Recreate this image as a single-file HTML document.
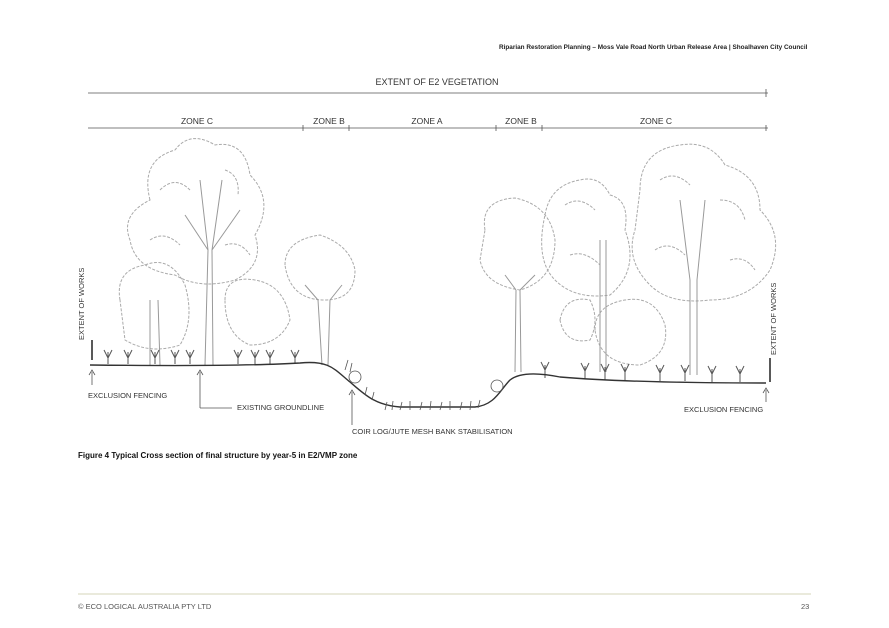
<!DOCTYPE html>
<html><head><meta charset="utf-8"><style>
html,body{margin:0;padding:0;background:#fff;}
body{width:889px;height:628px;position:relative;overflow:hidden;font-family:"Liberation Sans",sans-serif;}
.t{position:absolute;white-space:nowrap;}
</style></head><body>
<div class="t" style="left:499px;top:44px;font-size:6.4px;font-weight:bold;color:#222;">Riparian Restoration Planning – Moss Vale Road North Urban Release Area | Shoalhaven City Council</div>
<svg width="889" height="628" style="position:absolute;left:0;top:0" xmlns="http://www.w3.org/2000/svg" font-family="Liberation Sans, sans-serif">
<g fill="#333" font-size="9">
<text x="437" y="85" text-anchor="middle">EXTENT OF E2 VEGETATION</text>
<text x="197" y="124" text-anchor="middle" font-size="8.5">ZONE C</text>
<text x="329" y="124" text-anchor="middle" font-size="8.5">ZONE B</text>
<text x="427" y="124" text-anchor="middle" font-size="8.5">ZONE A</text>
<text x="521" y="124" text-anchor="middle" font-size="8.5">ZONE B</text>
<text x="656" y="124" text-anchor="middle" font-size="8.5">ZONE C</text>
</g>
<g stroke="#555" stroke-width="0.8" fill="none">
<line x1="88" y1="93" x2="768" y2="93"/><line x1="766" y1="89" x2="766" y2="97"/>
<line x1="88" y1="128" x2="768" y2="128"/>
<line x1="303" y1="125" x2="303" y2="131"/><line x1="349" y1="125" x2="349" y2="131"/>
<line x1="496" y1="125" x2="496" y2="131"/><line x1="542" y1="125" x2="542" y2="131"/><line x1="766" y1="125" x2="766" y2="131"/>
</g>
<!-- trees -->
<g stroke="#aaa" stroke-width="1" fill="none" stroke-dasharray="3 1.5">
<path d="M150 200 Q140 160 175 150 Q190 130 215 145 Q245 140 250 175 Q275 200 255 235 Q265 265 235 280 Q200 290 175 275 Q135 270 130 240 Q120 215 150 200Z"/>
<path d="M160 190 Q175 175 190 190 M225 170 Q240 175 238 195 M150 240 Q165 230 180 245 M225 245 Q240 240 250 255"/>
<path d="M120 300 Q115 270 145 265 Q170 255 185 285 Q195 320 180 345 Q150 355 125 340 Z"/>
<path d="M225 300 Q225 275 255 280 Q285 285 290 320 Q280 345 250 345 Q225 335 225 300Z"/>
<path d="M285 265 Q285 240 320 235 Q350 245 355 270 Q355 300 325 300 Q290 300 285 265Z"/>
<path d="M485 230 Q480 200 515 198 Q550 205 555 240 Q555 280 520 290 Q485 285 480 260Z"/>
<path d="M545 215 Q550 185 580 180 Q600 175 610 195 Q630 200 625 230 Q640 270 610 295 Q575 300 555 280 Q535 260 545 215Z"/>
<path d="M640 190 Q640 150 680 145 Q710 140 725 165 Q760 175 760 210 Q785 235 770 270 Q750 300 710 300 Q670 305 650 285 Q625 260 635 230Z"/>
<path d="M660 180 Q675 170 690 185 M720 200 Q740 200 745 220 M655 250 Q670 240 685 255 M730 260 Q745 255 755 270 M565 205 Q580 195 595 210 M570 255 Q585 250 600 265"/>
<path d="M595 330 Q595 305 625 300 Q655 295 665 325 Q670 355 640 365 Q600 365 595 330Z"/>
<path d="M560 320 Q565 295 590 300 Q600 320 590 340 Q565 345 560 320Z"/>
</g>
<g stroke="#999" stroke-width="1" fill="none">
<path d="M205 365 L208 250 L200 180 M213 365 L212 250 L222 180 M208 250 L185 215 M212 250 L240 210"/>
<path d="M322 365 L318 300 M328 365 L330 300 M318 300 L305 285 M330 300 L342 285"/>
<path d="M515 372 L516 290 M521 372 L520 290 M516 290 L505 275 M520 290 L535 275"/>
<path d="M690 375 L690 280 L680 200 M697 375 L697 280 L705 200 M600 372 L600 240 M606 372 L606 240"/>
<path d="M150 365 L150 300 M160 365 L158 300"/>
</g>
<!-- plants -->
<g stroke="#555" stroke-width="1" fill="none">
<path d="M108 364 L108 352 M104 350 L108 358 L112 350 M128 364 L128 352 M124 350 L128 358 L132 350 M155 364 L155 352 M151 350 L155 358 L159 350 M175 364 L175 352 M171 350 L175 358 L179 350 M190 364 L190 352 M186 350 L190 358 L194 350 M238 364 L238 352 M234 350 L238 358 L242 350 M255 364 L255 352 M251 350 L255 358 L259 350 M270 364 L270 352 M266 350 L270 358 L274 350 M295 364 L295 352 M291 350 L295 358 L299 350"/>
<path d="M545 378 L545 365 M541 362 L545 370 L549 362 M585 379 L585 366 M581 363 L585 371 L589 363 M605 380 L605 367 M601 364 L605 372 L609 364 M625 380 L625 367 M621 364 L625 372 L629 364 M660 381 L660 368 M656 365 L660 373 L664 365 M685 381 L685 368 M681 365 L685 373 L689 365 M712 382 L712 369 M708 366 L712 374 L716 366 M740 382 L740 369 M736 366 L740 374 L744 366"/>
<path d="M92 360 L92 340 M770 382 L770 358" stroke-width="1.5" stroke="#222"/>
</g>
<!-- ground -->
<path d="M90 365 C180 366 250 366 300 363 C330 360 335 370 350 382 C365 395 375 405 400 407 L475 407 C495 405 500 390 510 380 C520 372 540 373 560 377 C620 382 700 383 766 383" stroke="#333" stroke-width="1.4" fill="none"/>
<g stroke="#555" stroke-width="0.8" fill="none">
<circle cx="355" cy="377" r="6"/><circle cx="497" cy="386" r="6"/>
<path d="M385 410 l2 -8 M392 410 l1 -9 M400 410 l2 -8 M410 410 l0 -9 M420 410 l2 -8 M430 410 l1 -9 M440 410 l2 -8 M450 410 l0 -9 M460 410 l2 -8 M470 410 l1 -9 M478 408 l2 -8 M345 370 l3 -10 M350 372 l2 -9 M365 395 l2 -8 M372 400 l2 -8"/>
<path d="M92 385 L92 372 M89 375 L92 370 L95 375"/>
<path d="M200 408 L200 372 M197 375 L200 370 L203 375 M200 408 L232 408"/>
<path d="M352 425 L352 392 M349 395 L352 390 L355 395"/>
<path d="M766 402 L766 390 M763 393 L766 388 L769 393"/>
</g>
<g fill="#333" font-size="7.5">
<text x="88" y="398">EXCLUSION FENCING</text>
<text x="237" y="410">EXISTING GROUNDLINE</text>
<text x="352" y="434">COIR LOG/JUTE MESH BANK STABILISATION</text>
<text x="684" y="412">EXCLUSION FENCING</text>
<text transform="translate(84,340) rotate(-90)" font-size="7.5">EXTENT OF WORKS</text>
<text transform="translate(776,355) rotate(-90)" font-size="7.5">EXTENT OF WORKS</text>
</g>
<line x1="78" y1="594" x2="811" y2="594" stroke="#c8c8a0" stroke-width="0.8"/>
</svg>
<div class="t" style="left:78px;top:451px;font-size:8px;font-weight:bold;color:#111;">Figure 4 Typical Cross section of final structure by year-5 in E2/VMP zone</div>
<div class="t" style="left:78px;top:602px;font-size:7.5px;color:#555;">© ECO LOGICAL AUSTRALIA PTY LTD</div>
<div class="t" style="left:801px;top:602px;font-size:7.5px;color:#555;">23</div>
</body></html>
